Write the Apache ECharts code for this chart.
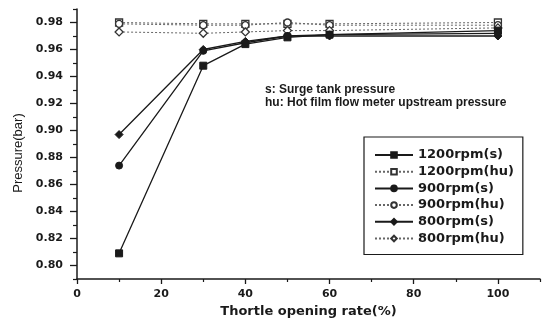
<!DOCTYPE html>
<html>
<head>
<meta charset="utf-8">
<script src="https://cdn.jsdelivr.net/npm/echarts@6/dist/echarts.min.js"></script>
<style>
  html, body { margin: 0; padding: 0; background: #fff; }
  #chart { width: 547px; height: 323px; }
</style>
</head>
<body>
<div id="chart"></div>
<script>
// Throttle opening rate (%) at which pressures were measured
const throttle = [10, 30, 40, 50, 60, 100];

// Pressure (bar): s = surge tank, hu = upstream of hot film flow meter
const p1200s  = [0.809, 0.948, 0.964, 0.969, 0.971, 0.974];
const p1200hu = [0.980, 0.979, 0.979, 0.979, 0.979, 0.980];
const p900s   = [0.874, 0.959, 0.965, 0.970, 0.971, 0.972];
const p900hu  = [0.979, 0.978, 0.978, 0.980, 0.978, 0.978];
const p800s   = [0.897, 0.960, 0.966, 0.970, 0.970, 0.970];
const p800hu  = [0.973, 0.972, 0.973, 0.974, 0.974, 0.976];

const seriesNames = ['1200rpm(s)', '1200rpm(hu)', '900rpm(s)', '900rpm(hu)', '800rpm(s)', '800rpm(hu)'];

// Axis tick labels
const xTicks = [0, 20, 40, 60, 80, 100];
const xMinorTicks = [10, 30, 50, 70, 90, 110];
const yTicks = [0.80, 0.82, 0.84, 0.86, 0.88, 0.90, 0.92, 0.94, 0.96, 0.98];
const yMinorTicks = [0.79, 0.81, 0.83, 0.85, 0.87, 0.89, 0.91, 0.93, 0.95, 0.97, 0.99];

const FONT = 'DejaVu Sans';
const INK = '#1a1a1a';

function pairs(ys) { return throttle.map((x, i) => [x, ys[i]]); }

function solidSeries(name, ys, symbol, size) {
  return {
    name, type: 'line', data: pairs(ys), symbol, symbolSize: size,
    lineStyle: { color: INK, width: 1.3, type: 'solid' },
    itemStyle: { color: INK, borderColor: INK, borderWidth: 1 },
    z: 3
  };
}
function dottedSeries(name, ys, symbol, size) {
  return {
    name, type: 'line', data: pairs(ys), symbol, symbolSize: size,
    lineStyle: { color: '#666', width: 1, type: [2, 2] },
    itemStyle: { color: '#fff', borderColor: '#333', borderWidth: 1.3 },
    z: 2
  };
}

const chart = echarts.init(document.getElementById('chart'), null, { renderer: 'canvas' });

const baseX = { type: 'value', min: 0, max: 110, gridIndex: 0, position: 'bottom' };
const baseY = { type: 'value', min: 0.79, max: 0.99, gridIndex: 0, position: 'left' };

chart.setOption({
  animation: false,
  backgroundColor: '#fff',
  grid: { left: 77, top: 9, right: 7, bottom: 42, containLabel: false },
  xAxis: [
    Object.assign({}, baseX, {
      axisLine: { show: true, lineStyle: { color: INK, width: 1.5 } },
      axisTick: { show: true, customValues: xTicks, length: 5, lineStyle: { color: INK, width: 1.3 } },
      axisLabel: { show: true, customValues: xTicks, margin: 10, color: INK, fontFamily: FONT, fontSize: 11, fontWeight: 'bold' },
      splitLine: { show: false },
      name: 'Thortle opening rate(%)', nameLocation: 'middle', nameGap: 26,
      nameTextStyle: { color: INK, fontFamily: FONT, fontSize: 13, fontWeight: 'bold' }
    }),
    Object.assign({}, baseX, {
      axisLine: { show: false },
      axisTick: { show: true, customValues: xMinorTicks, length: 3, lineStyle: { color: INK, width: 1.2 } },
      axisLabel: { show: false },
      splitLine: { show: false }
    })
  ],
  yAxis: [
    Object.assign({}, baseY, {
      axisLine: { show: true, lineStyle: { color: INK, width: 1.5 } },
      axisTick: { show: true, customValues: yTicks, length: 7, lineStyle: { color: INK, width: 1.3 } },
      axisLabel: {
        show: true, customValues: yTicks, margin: 14, color: INK,
        fontFamily: FONT, fontSize: 11, fontWeight: 'bold',
        formatter: v => v.toFixed(2)
      },
      splitLine: { show: false }
    }),
    Object.assign({}, baseY, {
      axisLine: { show: false },
      axisTick: { show: true, customValues: yMinorTicks, length: 4, lineStyle: { color: INK, width: 1.2 } },
      axisLabel: { show: false },
      splitLine: { show: false }
    })
  ],
  legend: {
    orient: 'vertical',
    left: 364, top: 137,
    padding: [11.5, 9, 9.5, 10],
    itemGap: 3.7,
    itemWidth: 38, itemHeight: 7,
    borderColor: INK, borderWidth: 1.2, borderRadius: 0,
    backgroundColor: '#fff',
    data: seriesNames,
    textStyle: { color: INK, fontFamily: FONT, fontSize: 13, fontWeight: 'bold', lineHeight: 13 }
  },
  graphic: [
    {
      type: 'text', left: 265, top: 83,
      style: {
        text: 's: Surge tank pressure\nhu: Hot film flow meter upstream pressure',
        fill: INK, font: 'bold 12px "Liberation Sans"', lineHeight: 13
      }
    },
    {
      type: 'text', x: 18, y: 153, rotation: Math.PI / 2,
      style: {
        text: 'Pressure(bar)', fill: INK, font: '13px "Liberation Sans"',
        align: 'center', verticalAlign: 'middle'
      }
    }
  ],
  series: [
    solidSeries(seriesNames[0], p1200s, 'rect', 7),
    dottedSeries(seriesNames[1], p1200hu, 'rect', 7),
    solidSeries(seriesNames[2], p900s, 'circle', 7),
    dottedSeries(seriesNames[3], p900hu, 'circle', 7),
    solidSeries(seriesNames[4], p800s, 'diamond', 8),
    dottedSeries(seriesNames[5], p800hu, 'diamond', 8)
  ]
});
</script>
</body>
</html>
